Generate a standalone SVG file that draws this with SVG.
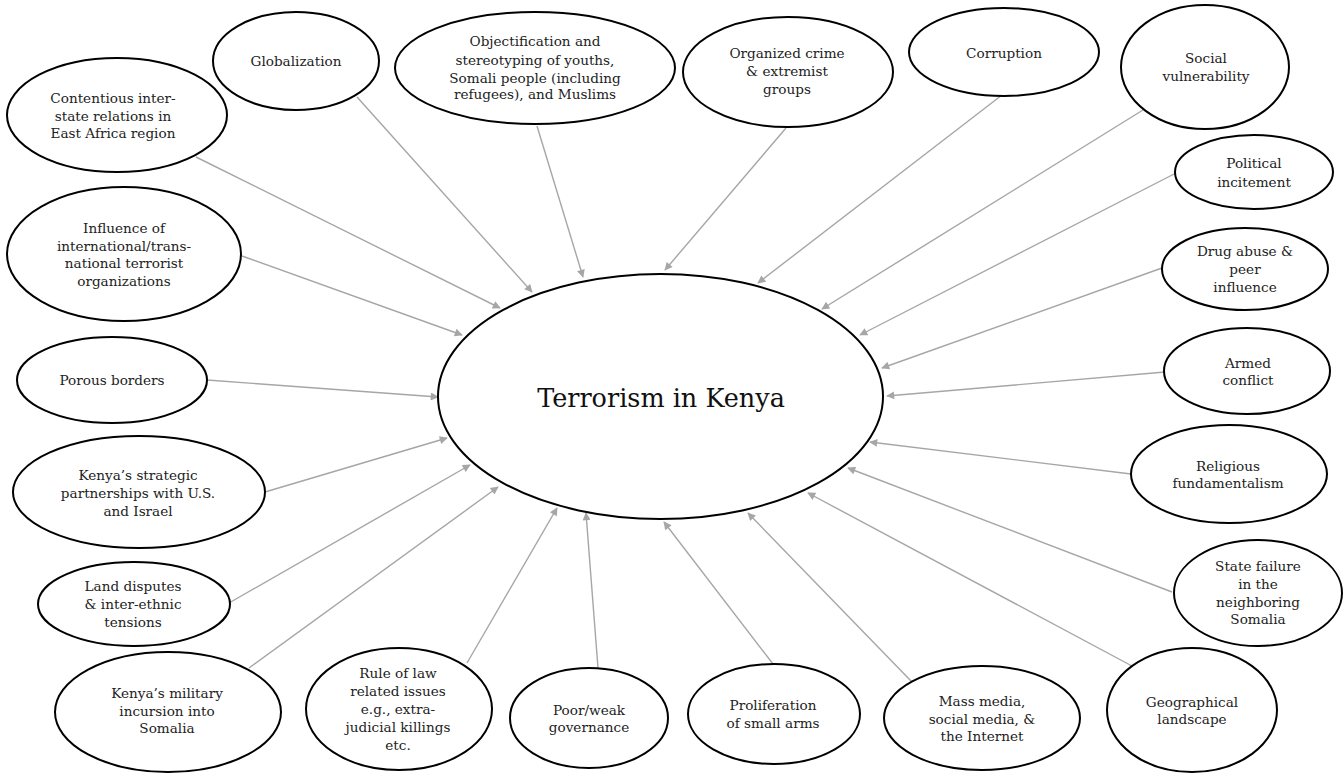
<svg xmlns="http://www.w3.org/2000/svg" width="1343" height="775" viewBox="0 0 1343 775">
<style>
.n ellipse{fill:#fff;stroke:#000;stroke-width:2}
.n text{font-family:"DejaVu Serif","Liberation Serif",serif;font-size:13.6px;fill:#222;text-anchor:middle}
#center text{font-size:25.5px;fill:#111}
#connectors line{stroke:#a6a6a6;stroke-width:1.4;marker-end:url(#ah)}
</style>
<defs>
<marker id="ah" viewBox="0 0 10 10" refX="9" refY="5" markerWidth="10" markerHeight="8" markerUnits="userSpaceOnUse" orient="auto">
<path d="M0,0 L10,5 L0,10 z" fill="#a6a6a6"/>
</marker>
</defs>
<rect width="1343" height="775" fill="#fff"/>
<g id="connectors">
<line x1="196" y1="157" x2="500" y2="308"/>
<line x1="357" y1="97" x2="532" y2="292"/>
<line x1="537" y1="126" x2="583" y2="277"/>
<line x1="786" y1="128" x2="665" y2="270"/>
<line x1="1002" y1="95" x2="758" y2="283"/>
<line x1="1143" y1="110" x2="822" y2="309"/>
<line x1="1176" y1="173" x2="860" y2="335"/>
<line x1="1162" y1="268" x2="882" y2="368"/>
<line x1="1165" y1="372" x2="887" y2="396"/>
<line x1="1131" y1="474" x2="870" y2="442"/>
<line x1="1172" y1="592" x2="848" y2="468"/>
<line x1="1132" y1="666" x2="808" y2="493"/>
<line x1="912" y1="682" x2="748" y2="513"/>
<line x1="773" y1="664" x2="664" y2="522"/>
<line x1="598" y1="668" x2="586" y2="513"/>
<line x1="467" y1="663" x2="557" y2="508"/>
<line x1="249" y1="668" x2="498" y2="487"/>
<line x1="229" y1="603" x2="470" y2="465"/>
<line x1="265" y1="492" x2="447" y2="438"/>
<line x1="207" y1="380" x2="438" y2="397"/>
<line x1="242" y1="256" x2="462" y2="335"/>
</g>
<g id="center" class="n"><ellipse cx="660.5" cy="396.5" rx="222.5" ry="122.5"/><text x="661" y="407">Terrorism in Kenya</text></g>
<g id="contentious" class="n"><ellipse cx="117" cy="115" rx="110" ry="57"/><text x="113" y="103">Contentious inter-</text><text x="113" y="121">state relations in</text><text x="113" y="138">East Africa region</text></g>
<g id="globalization" class="n"><ellipse cx="296" cy="61" rx="83" ry="49"/><text x="296" y="66">Globalization</text></g>
<g id="objectification" class="n"><ellipse cx="535" cy="68" rx="140" ry="56"/><text x="535" y="46">Objectification and</text><text x="535" y="65">stereotyping of youths,</text><text x="535" y="83">Somali people (including</text><text x="535" y="99">refugees), and Muslims</text></g>
<g id="organized" class="n"><ellipse cx="788" cy="72" rx="105" ry="55"/><text x="787" y="58">Organized crime</text><text x="787" y="76">&amp; extremist</text><text x="787" y="94">groups</text></g>
<g id="corruption" class="n"><ellipse cx="1004" cy="52" rx="95" ry="44"/><text x="1004" y="58">Corruption</text></g>
<g id="social" class="n"><ellipse cx="1205" cy="67" rx="84" ry="62"/><text x="1206" y="63">Social</text><text x="1206" y="81">vulnerability</text></g>
<g id="political" class="n"><ellipse cx="1254" cy="172" rx="79" ry="37"/><text x="1254" y="168">Political</text><text x="1254" y="187">incitement</text></g>
<g id="drug" class="n"><ellipse cx="1245" cy="269" rx="83" ry="41"/><text x="1245" y="256">Drug abuse &amp;</text><text x="1245" y="274">peer</text><text x="1245" y="292">influence</text></g>
<g id="armed" class="n"><ellipse cx="1247" cy="371" rx="83" ry="43"/><text x="1248" y="368">Armed</text><text x="1248" y="385">conflict</text></g>
<g id="religious" class="n"><ellipse cx="1229" cy="474" rx="98" ry="49"/><text x="1228" y="471">Religious</text><text x="1228" y="488">fundamentalism</text></g>
<g id="statefailure" class="n"><ellipse cx="1258" cy="593" rx="84" ry="53"/><text x="1258" y="571">State failure</text><text x="1258" y="589">in the</text><text x="1258" y="607">neighboring</text><text x="1258" y="624">Somalia</text></g>
<g id="geographical" class="n"><ellipse cx="1192" cy="710" rx="85" ry="62"/><text x="1192" y="707">Geographical</text><text x="1192" y="724">landscape</text></g>
<g id="massmedia" class="n"><ellipse cx="982" cy="718" rx="98" ry="52"/><text x="982" y="706">Mass media,</text><text x="982" y="724">social media, &amp;</text><text x="982" y="741">the Internet</text></g>
<g id="proliferation" class="n"><ellipse cx="774" cy="714" rx="86" ry="50"/><text x="773" y="710">Proliferation</text><text x="773" y="728">of small arms</text></g>
<g id="poorweak" class="n"><ellipse cx="589" cy="718" rx="79" ry="50"/><text x="589" y="715">Poor/weak</text><text x="589" y="732">governance</text></g>
<g id="ruleoflaw" class="n"><ellipse cx="399" cy="709" rx="93" ry="61"/><text x="398" y="678">Rule of law</text><text x="398" y="696">related issues</text><text x="398" y="714">e.g., extra-</text><text x="398" y="732">judicial killings</text><text x="398" y="750">etc.</text></g>
<g id="military" class="n"><ellipse cx="168" cy="712" rx="113" ry="60"/><text x="167" y="698">Kenya’s military</text><text x="167" y="716">incursion into</text><text x="167" y="733">Somalia</text></g>
<g id="land" class="n"><ellipse cx="134" cy="604" rx="96" ry="42"/><text x="133" y="591">Land disputes</text><text x="133" y="609">&amp; inter-ethnic</text><text x="133" y="627">tensions</text></g>
<g id="strategic" class="n"><ellipse cx="139" cy="492" rx="126" ry="56"/><text x="138" y="480">Kenya’s strategic</text><text x="138" y="498">partnerships with U.S.</text><text x="138" y="516">and Israel</text></g>
<g id="porous" class="n"><ellipse cx="112" cy="380" rx="95" ry="43"/><text x="112" y="385">Porous borders</text></g>
<g id="influence" class="n"><ellipse cx="124" cy="254" rx="117" ry="67"/><text x="124" y="233">Influence of</text><text x="124" y="251">international/trans-</text><text x="124" y="268">national terrorist</text><text x="124" y="286">organizations</text></g>
</svg>
